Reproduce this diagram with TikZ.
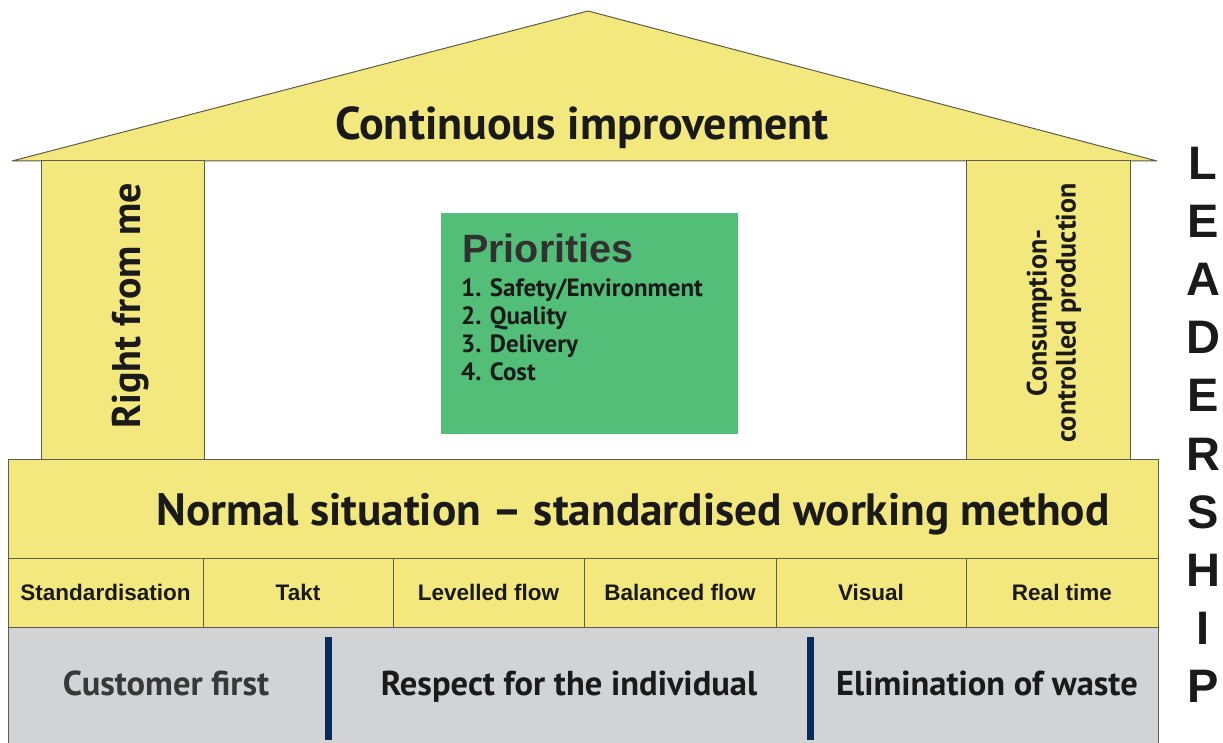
\documentclass[tikz,border=0pt]{standalone}
\usepackage{fontspec}
\newfontfamily\fru{PT Sans}
\newfontfamily\hel{Liberation Sans}
\definecolor{yel}{HTML}{F3E87D}
\definecolor{grn}{HTML}{52BE78}
\definecolor{gry}{HTML}{D1D3D4}
\definecolor{navy}{HTML}{0B2A5C}
\definecolor{edge}{HTML}{5E5C4C}
\definecolor{ink}{HTML}{1A1A1A}
\tikzset{
  box/.style={rectangle, inner sep=0pt, outer sep=0pt, draw=edge, line width=1pt},
  ybox/.style={box, fill=yel},
  ftxt/.style={inner sep=0pt, font=\fru\bfseries, text=ink},
  htxt/.style={inner sep=0pt, font=\hel\bfseries, text=ink},
  cell/.style={htxt, font=\hel\bfseries\fontsize{22.5}{25}\selectfont},
  base txt/.style={ftxt, anchor=base, font=\fru\bfseries\fontsize{34.5}{38}\selectfont},
  bar/.style={rectangle, fill=navy, inner sep=0pt, minimum width=7pt, minimum height=103pt},
}
\begin{document}
\begin{tikzpicture}[x=1pt,y=-1pt]
\useasboundingbox (0,0) rectangle (1223,743);
% roof
\coordinate (rl) at (12,161);
\coordinate (rt) at (588,11);
\coordinate (rr) at (1157,161);
\draw[fill=yel, draw=edge, line width=1pt, line join=round] (rl) -- (rt) -- (rr) -- cycle;
\node[ftxt, anchor=base, font=\fru\bfseries\fontsize{46}{50}\selectfont] (ci) at (582,140) {Continuous improvement};
% pillars
\node[ybox, minimum width=163pt, minimum height=298pt] (lp) at (122.5,310) {};
\node[ybox, minimum width=164pt, minimum height=298pt] (rp) at (1048,310) {};
\node[ftxt, rotate=90, font=\fru\bfseries\fontsize{40}{44}\selectfont] (rfm) at (131,306) {Right from me};
\node[ftxt, rotate=90, align=center, font=\fru\bfseries\fontsize{28}{29}\selectfont] (ccp) at (1054,313) {Consumption-\\controlled production};
% priorities
\node[rectangle, fill=grn, inner sep=0pt, minimum width=297pt, minimum height=221pt] (pri) at (589.5,323.5) {};
\node[htxt, anchor=west, text=ink!90, font=\hel\bfseries\fontsize{39.5}{42}\selectfont] (prt) at (462,248) {Priorities};
\node[ftxt, anchor=north west, align=left, font=\fru\bfseries\fontsize{25}{28}\selectfont] (pl) at (461,278) {1. Safety/Environment\\2. Quality\\3. Delivery\\4. Cost};
% band
\node[ybox, minimum width=1150pt, minimum height=99pt] (band) at (583,508.5) {};
\node[ftxt, anchor=base, font=\fru\bfseries\fontsize{45.3}{50}\selectfont] (ns) at (633,525) {Normal situation – standardised working method};
% cells
\node[ybox, minimum width=195pt, minimum height=69pt] (c1) at (105.5,592.5) {};
\node[ybox, minimum width=190pt, minimum height=69pt] (c2) at (298,592.5) {};
\node[ybox, minimum width=191pt, minimum height=69pt] (c3) at (488.5,592.5) {};
\node[ybox, minimum width=192pt, minimum height=69pt] (c4) at (680,592.5) {};
\node[ybox, minimum width=190pt, minimum height=69pt] (c5) at (871,592.5) {};
\node[ybox, minimum width=192pt, minimum height=69pt] (c6) at (1062,592.5) {};
\node[cell] (t1) at (c1) {Standardisation};
\node[cell] (t2) at (c2) {Takt};
\node[cell] (t3) at (c3) {Levelled flow};
\node[cell] (t4) at (c4) {Balanced flow};
\node[cell] (t5) at (c5) {Visual};
\node[cell] (t6) at (c6) {Real time};
% foundation
\node[box, fill=gry, minimum width=1150pt, minimum height=118pt] (base) at (583,686) {};
\node[bar] (b1) at (328.5,688.5) {};
\node[bar] (b2) at (810.5,688.5) {};
\node[base txt, text=black!78] (cf) at (166,695) {Customer first};
\node[base txt] (rfi) at (569,695) {Respect for the individual};
\node[base txt] (ew) at (987,695) {Elimination of waste};
% leadership
\foreach \l [count=\i from 0] in {L,E,A,D,E,R,S,H,I,P} {
  \node[htxt, font=\hel\bfseries\fontsize{47}{50}\selectfont] (ld\i) at (1203,163+58.2*\i) {\l};
}
\end{tikzpicture}
\end{document}
